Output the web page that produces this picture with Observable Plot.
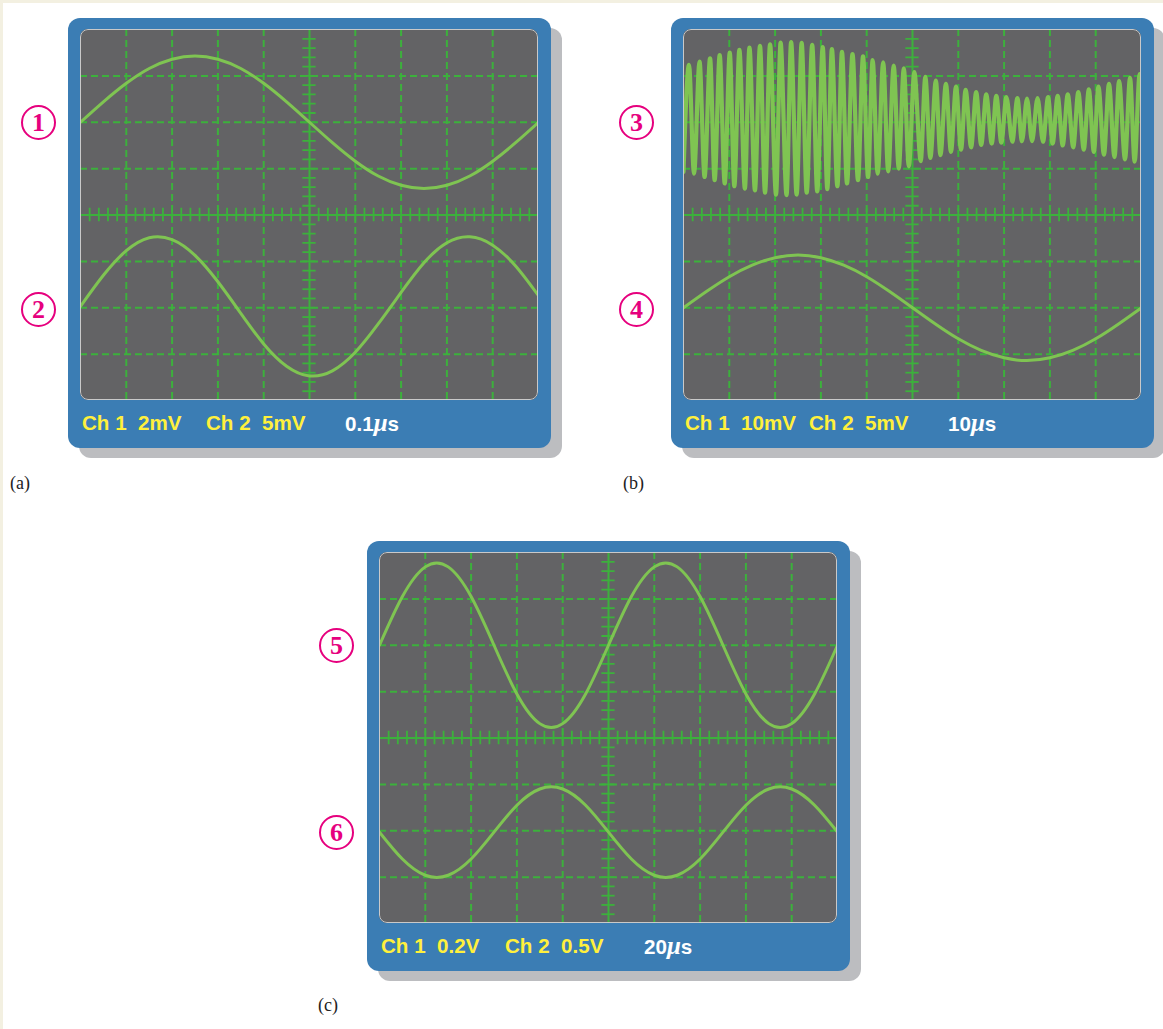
<!DOCTYPE html>
<html>
<head>
<meta charset="utf-8">
<script src="https://cdn.jsdelivr.net/npm/d3@7"></script>
<script src="https://cdn.jsdelivr.net/npm/@observablehq/plot@0.6"></script>
<style>
  body { margin: 0; background: #fff; }
  #page { position: relative; width: 1163px; height: 1029px; overflow: hidden; background: #fff; }
  .beigeTop { position: absolute; left: 0; top: 0; width: 1163px; height: 3px; background: #f3f0e1; }
  .beigeLeft { position: absolute; left: 0; top: 0; width: 3px; height: 1029px; background: #f3f0e1; }
  .shadow { position: absolute; width: 483px; height: 430px; background: #bcbdc0; border-radius: 12px; }
  .frame { position: absolute; width: 483px; height: 430px; background: #3b7db4; border-radius: 12px; }
  .screen { position: absolute; left: 12px; top: 11px; width: 458px; height: 371px; border-radius: 8px; overflow: hidden; background: #636365; }
  .screen svg { display: block; }
  .bord { position: absolute; left: 0; top: 0; width: 458px; height: 371px; box-sizing: border-box; border: 1.5px solid #c9c9c9; border-radius: 8px; pointer-events: none; }
  .lab { position: absolute; top: 395px; font: bold 20.6px "Liberation Sans", Arial, sans-serif; line-height: 20px; white-space: pre; color: #fff03c; }
  .lab.time { color: #ffffff; }
  .lab i { font-family: "Liberation Serif", serif; font-style: italic; font-weight: bold; font-size: 25px; }
  .num { position: absolute; width: 31px; height: 31px; margin-left: -18px; margin-top: -18px; border: 2.6px solid #e6007e; border-radius: 50%; color: #e6007e; font: bold 26px "Liberation Serif", serif; line-height: 31px; text-align: center; }
  .cap { position: absolute; font: 18px "Liberation Serif", serif; color: #222; line-height: 20px; }
</style>
</head>
<body>
<div id="page">
  <div class="beigeTop"></div>
  <div class="beigeLeft"></div>
</div>
<script>
// ---- colours ----
const TRACE = "#7fc452";
const GRID = "#3cb13c";

// ---- graticule (divisions) ----
const gridX = [1, 2, 3, 4, 6, 7, 8, 9];
const gridY = [-3, -2, -1, 1, 2, 3];
const minorX = d3.range(1, 50).map(i => +(i * 0.2).toFixed(2));
const minorY = d3.range(1, 40).map(i => +(-4 + i * 0.2).toFixed(2));

// ---- sample times (divisions) ----
const tSine = [0, 0.5, 1, 1.5, 2, 2.5, 3, 3.5, 4, 4.5, 5, 5.5, 6, 6.5, 7, 7.5, 8, 8.5, 9, 9.5, 10];

// ---- panel (a) ----
const ch1V = [2.00, 2.44, 2.84, 3.16, 3.36, 3.43, 3.36, 3.16, 2.84, 2.44, 2.00, 1.56, 1.16, 0.84, 0.64, 0.57, 0.64, 0.84, 1.16, 1.56, 2.00];
const ch2V = [-1.97, -1.30, -0.77, -0.49, -0.53, -0.87, -1.44, -2.12, -2.78, -3.26, -3.47, -3.36, -2.96, -2.35, -1.67, -1.03, -0.60, -0.47, -0.65, -1.10, -1.74];

// ---- panel (b) ----
const ch3T = [0.00, 0.12, 0.23, 0.35, 0.46, 0.58, 0.68, 0.79, 0.90, 1.01, 1.11, 1.22, 1.34, 1.44, 1.56, 1.67, 1.78, 1.89, 2.02, 2.12,
              2.25, 2.35, 2.47, 2.58, 2.69, 2.81, 2.92, 3.04, 3.14, 3.24, 3.36, 3.46, 3.57, 3.69, 3.81, 3.92, 4.03, 4.13, 4.24, 4.36,
              4.47, 4.59, 4.70, 4.81, 4.92, 5.04, 5.18, 5.28, 5.39, 5.51, 5.61, 5.73, 5.84, 5.95, 6.06, 6.16, 6.28, 6.39, 6.50, 6.61,
              6.73, 6.83, 6.94, 7.05, 7.18, 7.29, 7.39, 7.50, 7.61, 7.73, 7.85, 7.96, 8.06, 8.17, 8.28, 8.39, 8.51, 8.62, 8.74, 8.85,
              8.96, 9.06, 9.18, 9.29, 9.41, 9.51, 9.64, 9.75, 9.85, 9.96, 10.00];
const ch3V = [0.93, 3.24, 0.89, 3.31, 0.82, 3.38, 0.75, 3.45, 0.68, 3.50, 0.62, 3.56, 0.57, 3.61, 0.53, 3.65, 0.48, 3.68, 0.44, 3.72,
              0.43, 3.73, 0.44, 3.71, 0.48, 3.67, 0.51, 3.62, 0.56, 3.58, 0.62, 3.52, 0.68, 3.47, 0.75, 3.42, 0.82, 3.34, 0.89, 3.29,
              0.94, 3.22, 1.00, 3.16, 1.05, 3.08, 1.16, 2.98, 1.23, 2.90, 1.29, 2.83, 1.36, 2.77, 1.41, 2.70, 1.46, 2.65, 1.51, 2.60,
              1.54, 2.57, 1.56, 2.54, 1.58, 2.52, 1.59, 2.51, 1.59, 2.52, 1.58, 2.54, 1.54, 2.57, 1.50, 2.60, 1.46, 2.65, 1.41, 2.71,
              1.36, 2.77, 1.30, 2.83, 1.25, 2.89, 1.20, 2.96, 1.15, 3.04, 2.95];
const ch4V = [-2.00, -1.65, -1.33, -1.08, -0.92, -0.86, -0.92, -1.08, -1.33, -1.65, -2.00, -2.35, -2.67, -2.92, -3.08, -3.14, -3.08, -2.92, -2.67, -2.35, -2.00];

// ---- panel (c) ----
const ch5V = [2.00, 3.05, 3.69, 3.69, 3.05, 2.00, 0.95, 0.31, 0.31, 0.95, 2.00, 3.05, 3.69, 3.69, 3.05, 2.00, 0.95, 0.31, 0.31, 0.95, 2.00];
const ch6V = [-2.03, -2.61, -2.96, -2.96, -2.61, -2.03, -1.45, -1.10, -1.10, -1.45, -2.03, -2.61, -2.96, -2.96, -2.61, -2.03, -1.45, -1.10, -1.10, -1.45, -2.03];

// ---- labels ----
const panels = [
  { id: "a", left: 68, top: 18, nums: ["1", "2"], numX: 39, ch1: "Ch 1  2mV", ch2: "Ch 2  5mV", time: "0.1", cap: "(a)", capX: 10, capY: 473,
    traces: [{ t: tSine, v: ch1V, w: 3, curve: "natural" }, { t: tSine, v: ch2V, w: 3, curve: "natural" }] },
  { id: "b", left: 671, top: 18, nums: ["3", "4"], numX: 637, ch1: "Ch 1  10mV", ch2: "Ch 2  5mV", time: "10", cap: "(b)", capX: 623, capY: 473,
    traces: [{ t: ch3T, v: ch3V, w: 4.2, curve: "monotone-x" }, { t: tSine, v: ch4V, w: 3, curve: "natural" }] },
  { id: "c", left: 367, top: 541, nums: ["5", "6"], numX: 337, ch1: "Ch 1  0.2V", ch2: "Ch 2  0.5V", time: "20", cap: "(c)", capX: 318, capY: 995,
    traces: [{ t: tSine, v: ch5V, w: 3, curve: "natural" }, { t: tSine, v: ch6V, w: 3, curve: "natural" }] }
];

function scope(traces) {
  const marks = [
    Plot.ruleX(gridX, { stroke: GRID, strokeWidth: 2, strokeDasharray: "7,4" }),
    Plot.ruleY(gridY, { stroke: GRID, strokeWidth: 2, strokeDasharray: "7,4" }),
    Plot.ruleX([5], { stroke: GRID, strokeWidth: 2 }),
    Plot.ruleY([0], { stroke: GRID, strokeWidth: 2 }),
    Plot.ruleX(minorX, { x: d => d, y1: -0.145, y2: 0.145, stroke: GRID, strokeWidth: 1.8 }),
    Plot.ruleY(minorY, { y: d => d, x1: 4.855, x2: 5.145, stroke: GRID, strokeWidth: 1.8 })
  ];
  for (const tr of traces) {
    const data = tr.t.map((t, i) => ({ t, v: tr.v[i] }));
    marks.push(Plot.line(data, { x: "t", y: "v", stroke: TRACE, strokeWidth: tr.w, curve: tr.curve, strokeLinejoin: "round", strokeLinecap: "round" }));
  }
  return Plot.plot({
    width: 458, height: 371, margin: 0,
    x: { domain: [0, 10], axis: null },
    y: { domain: [-4, 4], axis: null },
    style: { background: "transparent" },
    marks
  });
}

const page = document.getElementById("page");
function el(cls, css, html) {
  const d = document.createElement("div");
  d.className = cls;
  Object.assign(d.style, css);
  if (html !== undefined) d.innerHTML = html;
  return d;
}

for (const p of panels) {
  page.appendChild(el("shadow", { left: (p.left + 11) + "px", top: (p.top + 10) + "px" }));
  const frame = el("frame", { left: p.left + "px", top: p.top + "px" });
  const screen = el("screen", {});
  screen.appendChild(scope(p.traces));
  screen.appendChild(el("bord", {}));
  frame.appendChild(screen);
  frame.appendChild(el("lab", { left: "14px" }, p.ch1));
  frame.appendChild(el("lab", { left: "138px" }, p.ch2));
  frame.appendChild(el("lab time", { left: "277px" }, p.time + "<i>μ</i>s"));
  page.appendChild(frame);
  // circled channel numbers, centred on the two channel baselines
  const screenTop = p.top + 11;
  page.appendChild(el("num", { left: p.numX + "px", top: (screenTop + 94) + "px" }, p.nums[0]));
  page.appendChild(el("num", { left: p.numX + "px", top: (screenTop + 281) + "px" }, p.nums[1]));
  page.appendChild(el("cap", { left: p.capX + "px", top: p.capY + "px" }, p.cap));
}
</script>
</body>
</html>
